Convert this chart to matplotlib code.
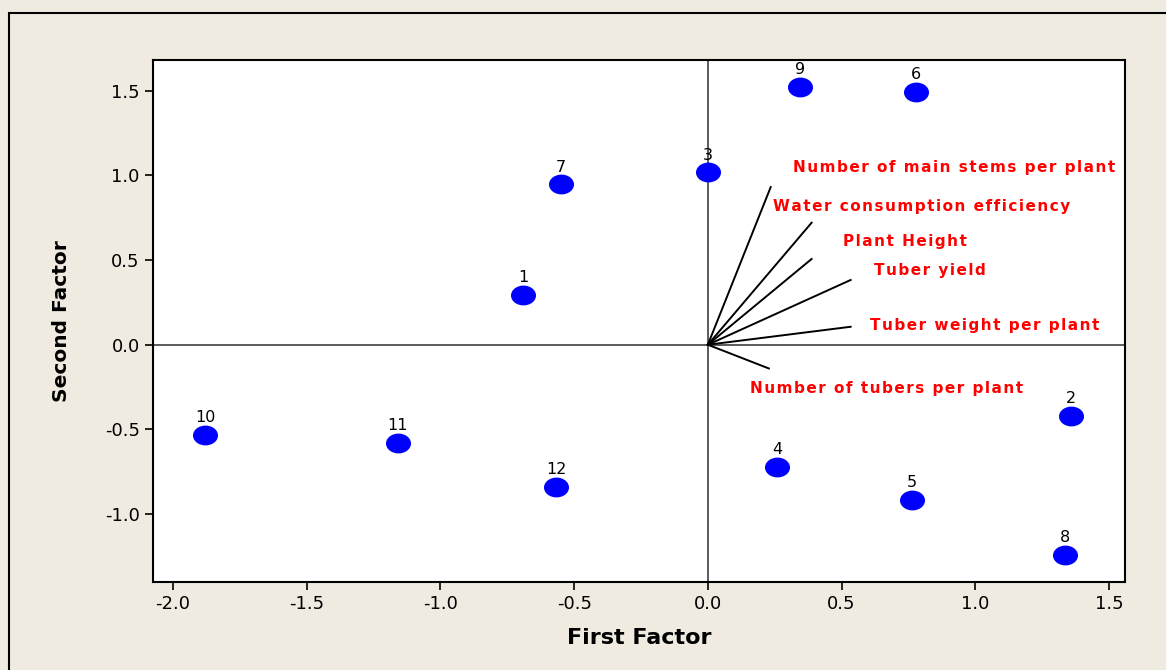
import matplotlib.pyplot as plt
from matplotlib.path import Path
from matplotlib.patches import Rectangle
import numpy as np

# scores of the 12 treatments
ids = ['1', '2', '3', '4', '5', '6', '7', '8', '9', '10', '11', '12']
first = [-0.69, 1.357, 0.0, 0.258, 0.763, 0.778, -0.55, 1.335, 0.344, -1.88, -1.16, -0.568]
second = [0.295, -0.42, 1.017, -0.72, -0.916, 1.49, 0.946, -1.24, 1.52, -0.53, -0.58, -0.84]

# loadings (vector tips) and their labels
traits = ['Number of main stems per plant', 'Water consumption efficiency', 'Plant Height',
          'Tuber yield', 'Tuber weight per plant', 'Number of tubers per plant']
load_x = [0.235, 0.388, 0.388, 0.534, 0.534, 0.228]
load_y = [0.93, 0.72, 0.506, 0.382, 0.106, -0.14]
lab_x = [0.318, 0.243, 0.505, 0.621, 0.606, 0.157]
lab_y = [1.045, 0.816, 0.609, 0.437, 0.112, -0.26]

xticks = [-2.0, -1.5, -1.0, -0.5, 0.0, 0.5, 1.0, 1.5]
yticks = [-1.0, -0.5, 0.0, 0.5, 1.0, 1.5]

bg = '#efebe0'
fig = plt.figure(figsize=(11.66, 6.70), dpi=100, facecolor=bg)
# outer frame
fig.patches.append(Rectangle((9 / 1166, -0.05), 1.1, 1 - 13 / 670 + 0.05, transform=fig.transFigure,
                             fill=False, edgecolor='black', linewidth=1.5))
ax = fig.add_axes([153 / 1166, 1 - 582 / 670, 972 / 1166, 522 / 670])
ax.set_facecolor('white')

ax.axhline(0, color='#404040', linewidth=1.2, zorder=1)
ax.axvline(0, color='#404040', linewidth=1.2, zorder=1)

# elliptic marker
circ = Path.unit_circle()
ell = Path(circ.vertices * np.array([1.0, 0.78]), circ.codes)
ax.plot(first, second, linestyle='none', marker=ell, markersize=17, color='#0000ff', zorder=3)
for i, t in enumerate(ids):
    ax.annotate(t, (first[i], second[i]), xytext=(0, 7), textcoords='offset points',
                ha='center', va='bottom', fontsize=11.5, color='black')

for i in range(len(traits)):
    ax.plot([0, load_x[i]], [0, load_y[i]], color='black', linewidth=1.4, zorder=2)
    spaced = '\u200a'.join(traits[i])  # letter spacing like the original
    ax.text(lab_x[i], lab_y[i], spaced, color='#ff0000', fontsize=11, fontweight='bold',
            ha='left', va='center')

ax.set_xlim(-2.075, 1.56)
ax.set_ylim(-1.40, 1.68)
ax.set_xticks(xticks)
ax.set_yticks(yticks)
ax.set_xticklabels(['%.1f' % v for v in xticks])
ax.set_yticklabels(['%.1f' % v for v in yticks])
ax.tick_params(direction='out', length=6, width=1.2, labelsize=13)
for s in ax.spines.values():
    s.set_linewidth(1.5)

ax.set_xlabel('First Factor', fontsize=16, fontweight='bold', labelpad=11)
ax.set_ylabel('Second Factor', fontsize=14.5, fontweight='bold', labelpad=24)

fig.savefig('out.png', dpi=100, facecolor=bg)
